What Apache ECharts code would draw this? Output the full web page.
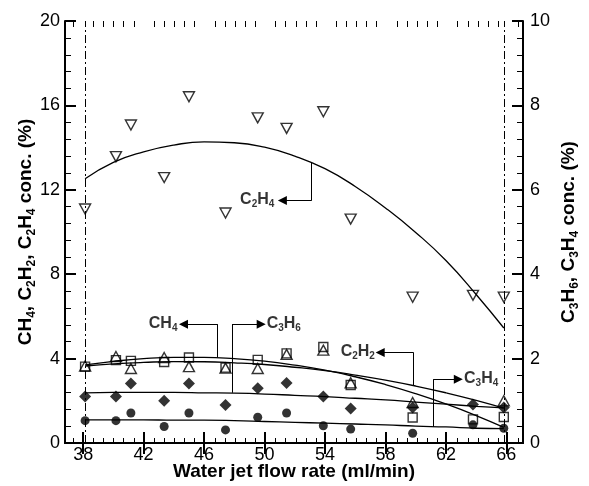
<!DOCTYPE html>
<html>
<head>
<meta charset="utf-8">
<script src="https://cdn.jsdelivr.net/npm/echarts@6/dist/echarts.min.js"></script>
<style>
  html, body { margin: 0; padding: 0; background: #fff; }
  #chart { width: 589px; height: 486px; }
</style>
</head>
<body>
<div id="chart"></div>
<script>
// Measured gas concentrations versus water jet flow rate
const flowRate = [38.13, 40.17, 41.16, 43.36, 45.0, 47.42, 49.55, 51.46, 53.89, 55.7, 59.8, 63.79, 65.83];
const c2h4 = [11.09, 13.57, 15.07, 12.58, 16.41, 10.9, 15.41, 14.91, 15.7, 10.61, 6.91, 7.0, 6.91];  // left axis
const ch4  = [3.62, 3.93, 3.89, 3.84, 4.05, 3.57, 3.94, 4.25, 4.55, 2.75, 1.21, 1.12, 1.23];       // left axis
const c2h2 = [3.65, 4.1, 3.53, 4.05, 3.62, 3.55, 3.53, 4.2, 4.4, 2.85, 1.92, null, 2.0];            // left axis
const c3h6 = [1.1, 1.1, 1.41, 1.0, 1.41, 0.9, 1.3, 1.42, 1.1, 0.82, 0.84, 0.91, 0.84];             // right axis
const c3h4 = [0.53, 0.53, 0.71, 0.39, 0.71, 0.31, 0.61, 0.71, 0.41, 0.33, 0.23, 0.43, 0.35];       // right axis

// Fitted trend curves, sampled along the flow-rate range
const fitX    = [38.13, 40, 42, 44, 46, 48, 50, 52, 54, 56, 58, 60, 62, 64, 65.83];
const c2h4Fit = [12.52, 13.3, 13.8, 14.12, 14.27, 14.23, 14.02, 13.6, 13.0, 12.16, 11.14, 9.98, 8.65, 7.04, 5.45];
const ch4Fit  = [3.70, 3.87, 4.00, 4.06, 4.06, 4.00, 3.88, 3.69, 3.45, 3.14, 2.77, 2.34, 1.85, 1.30, 0.74];
const c2h2Fit = [3.65, 3.75, 3.82, 3.86, 3.85, 3.80, 3.72, 3.59, 3.43, 3.22, 2.98, 2.70, 2.38, 2.02, 1.65];
const c3h6Fit = [1.19, 1.20, 1.20, 1.20, 1.19, 1.18, 1.16, 1.13, 1.10, 1.06, 1.02, 0.97, 0.92, 0.87, 0.83];
const c3h4Fit = [0.55, 0.55, 0.55, 0.54, 0.54, 0.53, 0.51, 0.49, 0.47, 0.45, 0.43, 0.40, 0.38, 0.35, 0.34];

// Limits of the tested flow-rate range (dash-dot lines)
const rangeLimits = [38.13, 65.84];

// Tick labels
const xTicks = [38, 42, 46, 50, 54, 58, 62, 66];
const leftTicks = [0, 4, 8, 12, 16, 20];
const rightTicks = [0, 2, 4, 6, 8, 10];

// Minor x ticks: six steps between labelled ticks
const xMinor = [];
for (let k = -1; k < xTicks.length; k++) {
  const base = k < 0 ? xTicks[0] - 4 : xTicks[k];
  for (let j = 1; j < 6; j++) {
    const v = +(base + j * 4 / 6).toFixed(3);
    if (v > 36.8 && v < 67.1) xMinor.push(v);
  }
}

const FONT = '"Liberation Sans", Arial, Helvetica, sans-serif';

// Rich-text styles for chemical formulas with subscripts
const noteRich = {
  m: { fontFamily: FONT, fontSize: 16, fontWeight: 'bold', color: '#000', lineHeight: 18, verticalAlign: 'top' },
  s: { fontFamily: FONT, fontSize: 10, fontWeight: 'bold', color: '#000', lineHeight: 8, verticalAlign: 'bottom' }
};
const titleRich = {
  m: { fontFamily: FONT, fontSize: 19, fontWeight: 'bold', color: '#000', lineHeight: 22, verticalAlign: 'top' },
  s: { fontFamily: FONT, fontSize: 12, fontWeight: 'bold', color: '#000', lineHeight: 12, verticalAlign: 'bottom' }
};

// Curve call-outs: connector from the curve up to the label level, then an arrow to the label
const notes = [
  { text: '{m|C}{s|2}{m|H}{s|4}', axis: 0, cx: 53.12, cy: 13.28, ly: 11.49, headX: 51.18, textX: 50.65, side: 'left' },
  { text: '{m|CH}{s|4}',          axis: 0, cx: 46.90, cy: 4.05,  ly: 5.63,  headX: 44.64, textX: 44.24, side: 'left' },
  { text: '{m|C}{s|3}{m|H}{s|6}', axis: 1, cx: 47.85, cy: 1.19,  ly: 2.815, headX: 49.78, textX: 50.14, side: 'right' },
  { text: '{m|C}{s|2}{m|H}{s|2}', axis: 0, cx: 59.86, cy: 2.72,  ly: 4.29,  headX: 57.65, textX: 57.30, side: 'left' },
  { text: '{m|C}{s|3}{m|H}{s|4}', axis: 1, cx: 61.18, cy: 0.38,  ly: 1.513, headX: 62.82, textX: 63.20, side: 'right' }
];

function pairs(xs, ys) {
  const out = [];
  xs.forEach((x, i) => { if (ys[i] != null) out.push([x, ys[i]]); });
  return out;
}

const black = '#000';
const openStyle = { color: 'rgba(0,0,0,0)', borderColor: black, borderWidth: 1.4 };
const filledStyle = { color: black };

function markerSeries(name, ys, axis, symbol, size, style, rotate) {
  return {
    type: 'scatter', name, xAxisIndex: 0, yAxisIndex: axis,
    data: pairs(flowRate, ys), symbol, symbolSize: size, symbolRotate: rotate || 0,
    itemStyle: style, z: 4, silent: true
  };
}
function fitSeries(ys, axis) {
  return {
    type: 'line', xAxisIndex: 0, yAxisIndex: axis, data: pairs(fitX, ys),
    smooth: true, symbol: 'none', lineStyle: { color: black, width: 1.3 }, z: 3, silent: true
  };
}

const series = [
  fitSeries(c2h4Fit, 0), fitSeries(ch4Fit, 0), fitSeries(c2h2Fit, 0),
  fitSeries(c3h6Fit, 1), fitSeries(c3h4Fit, 1),
  markerSeries('C2H4', c2h4, 0, 'triangle', [11, 10], openStyle, 180),
  markerSeries('CH4', ch4, 0, 'rect', [9, 9], openStyle),
  markerSeries('C2H2', c2h2, 0, 'triangle', [11, 10], openStyle),
  markerSeries('C3H6', c3h6, 1, 'diamond', [12, 12], filledStyle),
  markerSeries('C3H4', c3h4, 1, 'circle', 9, filledStyle)
];

// dash-dot range limits
series.push({
  type: 'line', xAxisIndex: 0, yAxisIndex: 0, data: [], silent: true,
  markLine: {
    silent: true, animation: false, symbol: ['none', 'none'], label: { show: false },
    lineStyle: { color: black, width: 1, type: [8, 3, 2, 3] },
    data: rangeLimits.map(v => ({ xAxis: v }))
  }
});

// call-out connectors, arrows and labels
notes.forEach(n => {
  series.push({
    type: 'line', xAxisIndex: 0, yAxisIndex: n.axis, data: [], silent: true,
    markLine: {
      silent: true, animation: false, symbol: ['none', 'none'], label: { show: false },
      lineStyle: { color: black, width: 1, type: 'solid' },
      data: [
        [{ coord: [n.cx, n.cy] }, { coord: [n.cx, n.ly] }],
        [{ coord: [n.cx, n.ly] }, { coord: [n.headX, n.ly], symbol: 'triangle', symbolSize: 9 }]
      ]
    }
  });
  series.push({
    type: 'scatter', xAxisIndex: 0, yAxisIndex: n.axis, silent: true,
    data: [[n.textX, n.ly]], symbolSize: 0, z: 5,
    label: { show: true, position: n.side, distance: 0, fontWeight: 'bold', formatter: n.text, rich: noteRich }
  });
});

const xCommon = { type: 'value', min: 36.8, max: 67.1, splitLine: { show: false } };
const axisLine = { show: true, lineStyle: { color: black, width: 2 } };
const majorTick = { show: true, inside: true, length: 11, lineStyle: { color: black, width: 2 } };
const tickLabel = { fontFamily: FONT, fontSize: 18, color: black };

const option = {
  animation: false,
  backgroundColor: '#fff',
  textStyle: { fontFamily: FONT },
  grid: [
    { left: 65, right: 64, top: 21, bottom: 42 },
    { left: 65, right: 64, top: 21, bottom: 42 }
  ],
  xAxis: [
    Object.assign({}, xCommon, {
      gridIndex: 0, position: 'bottom', axisLine,
      axisTick: Object.assign({ customValues: xTicks }, majorTick),
      axisLabel: Object.assign({ customValues: xTicks, margin: 3, formatter: v => String(v) }, tickLabel),
      name: 'Water jet flow rate (ml/min)', nameLocation: 'middle', nameGap: 19, nameMoveOverlap: false,
      nameTextStyle: { fontFamily: FONT, fontSize: 19, fontWeight: 'bold', color: black }
    }),
    Object.assign({}, xCommon, {
      gridIndex: 0, position: 'top', axisLine,
      axisTick: Object.assign({ customValues: xTicks }, majorTick),
      axisLabel: { show: false }
    }),
    Object.assign({}, xCommon, {
      gridIndex: 1, position: 'bottom', axisLine: { show: false },
      axisTick: { show: true, inside: true, length: 6, customValues: xMinor, lineStyle: { color: black, width: 1 } },
      axisLabel: { show: false }
    }),
    Object.assign({}, xCommon, {
      gridIndex: 1, position: 'top', axisLine: { show: false },
      axisTick: { show: true, inside: true, length: 6, customValues: xMinor, lineStyle: { color: black, width: 1 } },
      axisLabel: { show: false }
    })
  ],
  yAxis: [
    {
      type: 'value', gridIndex: 0, position: 'left', min: leftTicks[0], max: leftTicks[leftTicks.length - 1],
      interval: leftTicks[1] - leftTicks[0],
      axisLine, axisTick: majorTick,
      minorTick: { show: true, splitNumber: 5, length: 6, lineStyle: { color: black, width: 1 } },
      splitLine: { show: false }, minorSplitLine: { show: false },
      axisLabel: Object.assign({ margin: 5 }, tickLabel),
      name: '{m|CH}{s|4}{m|, C}{s|2}{m|H}{s|2}{m|, C}{s|2}{m|H}{s|4}{m| conc. (%)}',
      nameLocation: 'middle', nameRotate: 90, nameGap: 27, nameMoveOverlap: false,
      nameTextStyle: { rich: titleRich }
    },
    {
      type: 'value', gridIndex: 0, position: 'right', min: rightTicks[0], max: rightTicks[rightTicks.length - 1],
      interval: rightTicks[1] - rightTicks[0],
      axisLine, axisTick: majorTick,
      minorTick: { show: true, splitNumber: 5, length: 6, lineStyle: { color: black, width: 1 } },
      splitLine: { show: false }, minorSplitLine: { show: false },
      axisLabel: Object.assign({ margin: 7 }, tickLabel),
      name: '{m|C}{s|3}{m|H}{s|6}{m|, C}{s|3}{m|H}{s|4}{m| conc. (%)}',
      nameLocation: 'middle', nameRotate: 90, nameGap: 36, nameMoveOverlap: false,
      nameTextStyle: { rich: titleRich }
    },
    {
      type: 'value', gridIndex: 1, min: 0, max: 20, show: false
    }
  ],
  series
};

const chart = echarts.init(document.getElementById('chart'), null, { renderer: 'canvas' });
chart.setOption(option);
</script>
</body>
</html>
